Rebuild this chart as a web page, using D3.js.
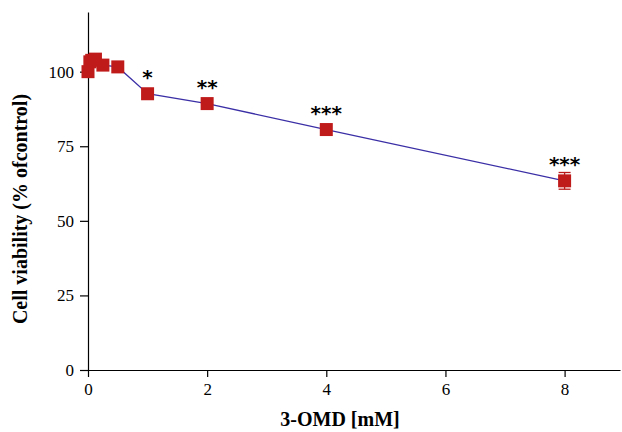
<!DOCTYPE html>
<html>
<head>
<meta charset="utf-8">
<script src="https://cdn.jsdelivr.net/npm/d3@7"></script>
<style>
  body { margin: 0; background: #fff; }
  svg text { font-family: "Liberation Serif", "Times New Roman", serif; }
</style>
</head>
<body>
<div id="chart"></div>
<script>
var doses = [0, 0.03125, 0.0625, 0.125, 0.25, 0.5, 1, 2, 4, 8];
var viability = [100, 103.3, 103.8, 104.2, 102.2, 101.6, 92.6, 89.3, 80.6, 63.4];
var errors = [0, 0, 0, 0, 0, 0, 0, 0, 0, 2.8];
var stars = ["", "", "", "", "", "", "*", "**", "***", "***"];
var xTicks = [0, 2, 4, 6, 8];
var yTicks = [0, 25, 50, 75, 100];

var width = 622,
  height = 432;
var margin = {left: 88, top: 12, right: 2, bottom: 62};

var svg = d3.select("#chart")
  .append("svg")
  .attr("width", width)
  .attr("height", height);

var x = d3.scaleLinear()
  .domain([0, 8.93])
  .range([margin.left, width - margin.right]);
var y = d3.scaleLinear()
  .domain([0, 120])
  .range([height - margin.bottom, margin.top]);

var xAxis = svg.append("g")
  .attr("transform", "translate(0," + y(0) + ")")
  .call(d3.axisBottom(x).tickValues(xTicks).tickSize(7).tickPadding(6).tickSizeOuter(0));
var yAxis = svg.append("g")
  .attr("transform", "translate(" + x(0) + ",0)")
  .call(d3.axisLeft(y).tickValues(yTicks).tickSize(8).tickPadding(6).tickSizeOuter(0));

[xAxis, yAxis].forEach(function(a) {
  a.attr("font-family", "Liberation Serif").attr("font-size", 17);
  a.selectAll("path, line").attr("stroke", "#000").attr("stroke-width", 1.2);
  a.selectAll("text").attr("fill", "#000");
});

// the line
var line = d3.line()
  .x(function(d, i) { return x(doses[i]); })
  .y(function(d) { return y(d); });
svg.append("path")
  .datum(viability)
  .attr("d", line)
  .attr("fill", "none")
  .attr("stroke", "#3b2fa6")
  .attr("stroke-width", 1.3);

// error bars
var eb = svg.append("g").selectAll("g")
  .data(viability.map(function(v, i) { return i; }).filter(function(i) { return errors[i] > 0; }))
  .enter().append("g")
  .attr("stroke", "#b81a1a")
  .attr("stroke-width", 1.3);
eb.append("line")
  .attr("x1", function(i) { return x(doses[i]); })
  .attr("x2", function(i) { return x(doses[i]); })
  .attr("y1", function(i) { return y(viability[i] + errors[i]); })
  .attr("y2", function(i) { return y(viability[i] - errors[i]); });
eb.selectAll(".cap")
  .data(function(i) { return [[i, 1], [i, -1]]; })
  .enter().append("line")
  .attr("x1", function(d) { return x(doses[d[0]]) - 6; })
  .attr("x2", function(d) { return x(doses[d[0]]) + 6; })
  .attr("y1", function(d) { return y(viability[d[0]] + d[1] * errors[d[0]]); })
  .attr("y2", function(d) { return y(viability[d[0]] + d[1] * errors[d[0]]); });

// markers
var s = 13;
svg.append("g").selectAll("rect")
  .data(viability)
  .enter().append("rect")
  .attr("x", function(d, i) { return x(doses[i]) - s / 2; })
  .attr("y", function(d) { return y(d) - s / 2; })
  .attr("width", s)
  .attr("height", s)
  .attr("fill", "#c01b1b");

// significance stars
svg.append("g").selectAll("text")
  .data(viability)
  .enter().append("text")
  .attr("x", function(d, i) { return x(doses[i]); })
  .attr("y", function(d) { return y(d) - 10; })
  .attr("text-anchor", "middle")
  .style("font-family", "'DejaVu Sans', sans-serif")
  .style("font-weight", "bold")
  .style("font-size", "20px")
  .text(function(d, i) { return stars[i]; });

// axis titles
svg.append("text")
  .attr("x", 340)
  .attr("y", 426)
  .attr("text-anchor", "middle")
  .style("font-size", "20px")
  .style("font-weight", "bold")
  .text("3-OMD [mM]");

svg.append("text")
  .attr("transform", "translate(27,209) rotate(-90)")
  .attr("text-anchor", "middle")
  .style("font-size", "20px")
  .style("font-weight", "bold")
  .text("Cell viability (% ofcontrol)");
</script>
</body>
</html>
